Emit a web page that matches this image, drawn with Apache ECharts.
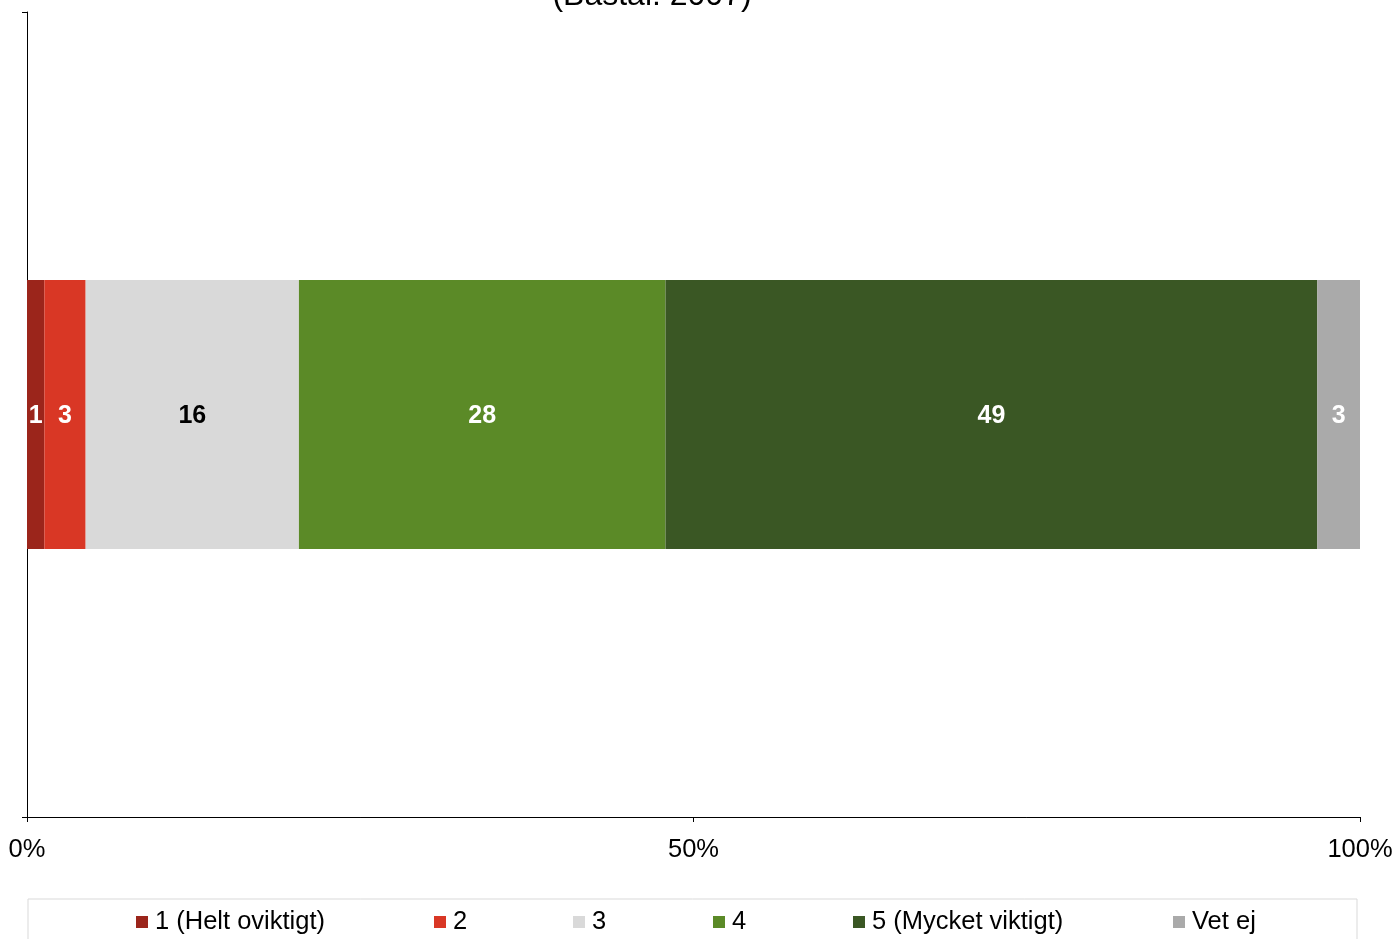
<!DOCTYPE html>
<html>
<head>
<meta charset="utf-8">
<script src="https://cdn.jsdelivr.net/npm/echarts@6/dist/echarts.min.js"></script>
<style>
html,body{margin:0;padding:0;background:#fff;}
#chart{width:1396px;height:939px;}
</style>
</head>
<body>
<div id="chart"></div>
<script>
const titleText = '(Bastal: 2007)';
const categories = [''];
const seriesNames = ['1 (Helt oviktigt)', '2', '3', '4', '5 (Mycket viktigt)', 'Vet ej'];
const seriesValues = [[1.3], [3.1], [16.0], [27.5], [48.9], [3.2]];
const xTickLabels = ['0%', '50%', '100%'];

const colors = ['#9B251B', '#D93725', '#D9D9D9', '#5B8A27', '#3A5724', '#AAAAAA'];
const labelColors = ['#fff', '#fff', '#000', '#fff', '#fff', '#fff'];
const legendLefts = [136, 434, 573, 713, 853, 1173];
const FONT = '"Liberation Sans", Arial, sans-serif';

const chart = echarts.init(document.getElementById('chart'));
chart.setOption({
  backgroundColor: '#fff',
  animation: false,
  textStyle: { fontFamily: FONT },
  graphic: [{
    type: 'rect',
    shape: { x: 28, y: 899, width: 1329, height: 80 },
    style: { fill: 'none', stroke: '#D9D9D9', lineWidth: 1 },
    silent: true
  }, {
    type: 'text',
    x: 652,
    y: 12,
    silent: true,
    style: {
      text: titleText,
      fill: '#000',
      font: '32px "Liberation Sans", Arial, sans-serif',
      textAlign: 'center',
      textVerticalAlign: 'bottom'
    }
  }],
  legend: seriesNames.map((n, i) => ({
    data: [n],
    left: legendLefts[i],
    top: 909,
    itemWidth: 12,
    itemHeight: 12,
    itemGap: 0,
    padding: 0,
    icon: 'rect',
    selectedMode: false,
    textStyle: { fontFamily: FONT, fontSize: 25.5, color: '#000', padding: [0, 0, 0, 2] }
  })),
  grid: { left: 27, right: 36, top: 12, bottom: 122, containLabel: false },
  xAxis: {
    type: 'value',
    min: 0, max: 100, interval: 50,
    axisLine: { show: true, lineStyle: { color: '#000', width: 1 } },
    axisTick: { show: true, length: 5, lineStyle: { color: '#000' } },
    splitLine: { show: false },
    axisLabel: {
      fontFamily: FONT, fontSize: 25.5, color: '#000', margin: 20,
      formatter: v => xTickLabels[Math.round(v / 50)] || ''
    }
  },
  yAxis: {
    type: 'category',
    data: categories,
    axisLine: { show: true, lineStyle: { color: '#000', width: 1 } },
    axisTick: { show: true, length: 5, lineStyle: { color: '#000' } },
    axisLabel: { show: false }
  },
  series: seriesNames.map((n, i) => ({
    name: n,
    type: 'bar',
    stack: 'total',
    barWidth: '33.4%',
    data: seriesValues[i],
    itemStyle: { color: colors[i] },
    label: {
      show: true,
      position: 'inside',
      offset: [0, 2],
      fontFamily: FONT,
      fontSize: 25,
      fontWeight: 'bold',
      color: labelColors[i],
      formatter: p => String(Math.round(p.value))
    }
  }))
});
</script>
</body>
</html>
